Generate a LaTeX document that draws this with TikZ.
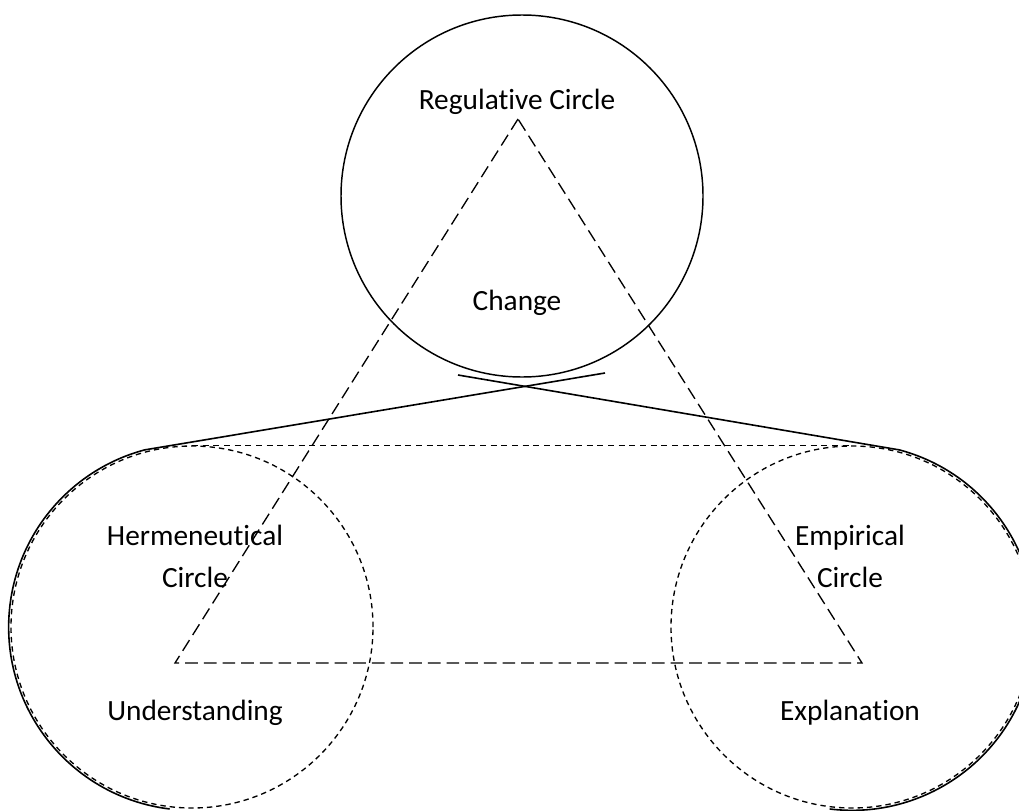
\documentclass[tikz,border=0pt]{standalone}
\usepackage{fontspec}
\setmainfont{Carlito}[Ligatures=NoCommon]
\usetikzlibrary{calc}

\begin{document}
\begin{tikzpicture}[x=0.75pt, y=-0.75pt,
            belt/.style={line width=1.2pt},
            ring/.style={circle, draw, line width=1.1pt, minimum size=271.5pt, inner sep=0pt},
            dotring/.style={circle, draw, line width=1pt, dash pattern=on 4pt off 3pt, minimum size=271.5pt, inner sep=0pt},
            tri/.style={line width=1pt, dash pattern=on 9.5pt off 4.5pt},
            label/.style={font=\fontsize{22}{31.5}\selectfont, align=center, inner sep=0pt}]
        \useasboundingbox (0,0) rectangle (1019,810);
        \node[ring] (reg) at (522,196) {};
        \node[dotring] (herm) at (192,627) {};
        \node[dotring] (emp) at (852,627) {};
        \coordinate (apex) at (518,119);
        \coordinate (bl) at (175,663);
        \coordinate (br) at (862,663);
        \coordinate (ltip) at (605,373);
        \coordinate (rtail) at (458,375);
        \draw[tri] (apex) -- (bl) -- (br) -- cycle;
        \draw[line width=1pt, dash pattern=on 4.5pt off 3.5pt] (herm.north) -- (emp.north);
        \draw[belt] ([shift={(263:137.5pt)}]herm.center) arc[start angle=263, end angle=105, radius=137.5pt] -- (ltip);
        \draw[belt] (rtail) -- ([shift={(75:137.5pt)}]emp.center) arc[start angle=75, end angle=-97, radius=137.5pt];
        \node[label] (regtext) at (517,102) {Regulative Circle};
        \node[label] (change) at (517,303) {Change};
        \node[label] (hermtext) at (195,556) {Hermeneutical\\Circle};
        \node[label] (under) at (195,713) {Understanding};
        \node[label] (emptext) at (850,556) {Empirical\\Circle};
        \node[label] (expl) at (850,713) {Explanation};
    \end{tikzpicture}
\end{document}
